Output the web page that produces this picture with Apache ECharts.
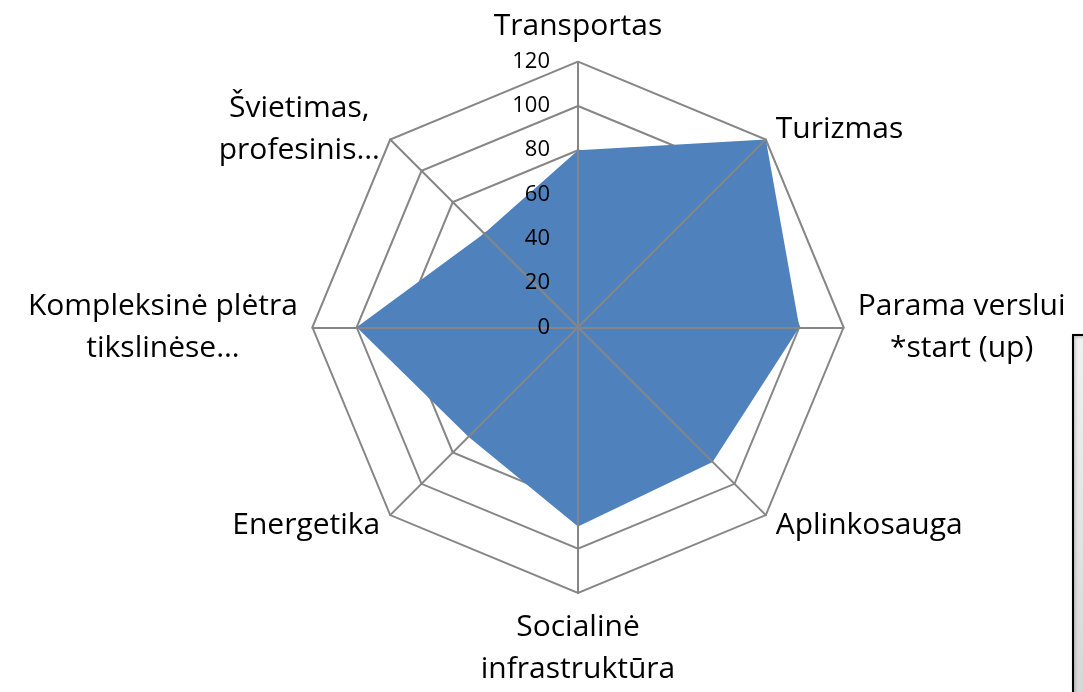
<!DOCTYPE html>
<html>
<head>
<meta charset="utf-8">
<script src="https://cdn.jsdelivr.net/npm/echarts@6/dist/echarts.min.js"></script>
<style>
  html, body { margin: 0; padding: 0; background: #fff; }
  #chart { width: 1083px; height: 692px; }
</style>
</head>
<body>
<div id="chart"></div>
<script>
// indicators listed counter-clockwise from the top (ECharts radar order)
const indicatorNames = [
  'Transportas',
  'Švietimas,\nprofesinis…',
  'Kompleksinė plėtra\ntikslinėse…',
  'Energetika',
  'Socialinė\ninfrastruktūra',
  'Aplinkosauga',
  'Parama verslui\n*start (up)',
  'Turizmas'
]
const seriesValues = [80, 60, 100, 70, 90, 86, 100, 120]
const tickLabels = [0, 20, 40, 60, 80, 100, 120]

const FONT = '"Open Sans", "Liberation Sans", sans-serif'
const GRID_COLOR = '#868686'
const FILL = '#4F81BD'

// width of the widest line, so that multi-line names can be centred inside their block
const ctx = document.createElement('canvas').getContext('2d')
ctx.font = '30px "Open Sans"'
function blockWidth(name) {
  return Math.ceil(Math.max(...name.split('\n').map(l => ctx.measureText(l).width)))
}
const rich = {}
indicatorNames.forEach((n, i) => {
  if (n.indexOf('\n') >= 0) {
    rich['n' + i] = {
      width: blockWidth(n),
      align: 'center',
      fontSize: 30,
      lineHeight: 42,
      fontFamily: FONT,
      color: '#000'
    }
  }
})

const indicators = indicatorNames.map(n => ({ name: n, min: 0, max: 120 }))
const radarBase = {
  center: [578, 327.3],
  radius: 265.6,
  startAngle: 90,
  shape: 'polygon',
  splitNumber: 6,
  indicator: indicators,
  splitArea: { show: false }
}

const chart = echarts.init(document.getElementById('chart'))

chart.setOption({
  animation: false,
  grid: {
    left: 578,
    top: 61.7,
    width: 10,
    height: 265.6,
    z: 10
  },
  xAxis: { type: 'value', show: false },
  yAxis: {
    type: 'value',
    z: 10,
    min: 0,
    max: 120,
    interval: 20,
    axisLine: { show: false },
    axisTick: { show: false },
    splitLine: { show: false },
    axisLabel: {
      margin: 28,
      fontSize: 22,
      fontFamily: FONT,
      color: '#000',
      verticalAlign: 'middle',
      formatter: v => tickLabels.indexOf(v) >= 0 ? String(v) : ''
    }
  },
  radar: [
    // rings and names, under the filled area
    Object.assign({}, radarBase, {
      z: 0,
      nameGap: 14,
      axisName: {
        color: '#000',
        fontSize: 30,
        lineHeight: 42,
        fontFamily: FONT,
        formatter: (name) => {
          const i = indicatorNames.indexOf(name)
          if (name.indexOf('\n') < 0) return name
          return name.split('\n').map(l => '{n' + i + '|' + l + '}').join('\n')
        },
        rich: rich
      },
      axisLine: { show: false },
      splitLine: { lineStyle: { color: GRID_COLOR, width: 2 } }
    }),
    // spokes, drawn over the filled area
    Object.assign({}, radarBase, {
      z: 5,
      axisName: { show: false },
      axisLine: { lineStyle: { color: GRID_COLOR, width: 2 } },
      splitLine: { show: false }
    })
  ],
  series: [
    {
      type: 'radar',
      radarIndex: 0,
      z: 2,
      symbol: 'none',
      lineStyle: { width: 0, color: FILL },
      areaStyle: { color: FILL, opacity: 1 },
      data: [{ value: seriesValues, name: 'Series1' }]
    }
  ],
  graphic: [
    {
      type: 'rect',
      shape: { x: 1073, y: 335, width: 40, height: 400 },
      style: {
        fill: new echarts.graphic.LinearGradient(0, 0, 0, 1, [
          { offset: 0, color: '#f2f2f2' },
          { offset: 1, color: '#d4d4d4' }
        ]),
        stroke: '#000',
        lineWidth: 2,
        shadowBlur: 3,
        shadowColor: 'rgba(0,0,0,0.3)',
        shadowOffsetX: 1,
        shadowOffsetY: 1
      }
    }
  ]
})
</script>
</body>
</html>
